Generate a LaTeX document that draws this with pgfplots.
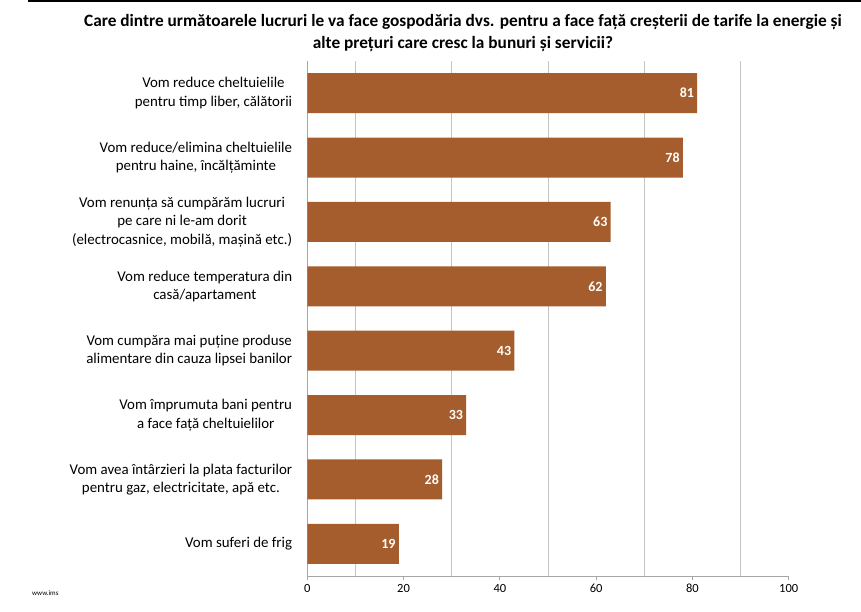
\documentclass[border=0pt]{standalone}
\usepackage{pgfplots}
\pgfplotsset{compat=1.18}
\usepackage{fontspec}
\setmainfont{Carlito}
\definecolor{barc}{HTML}{A55D2D}
\definecolor{gridc}{HTML}{C4C4C4}
\definecolor{axc}{HTML}{A6A6A6}
\begin{document}
\begin{tikzpicture}
\useasboundingbox (0bp,0bp) rectangle (861bp,612bp);
\fill[black] (28bp,610bp) rectangle (861bp,612bp);
\node[align=center,font=\fontsize{17.3bp}{22bp}\selectfont\bfseries] at (463bp,579bp)
  {Care dintre următoarele lucruri le va face gospodăria dvs. pentru a face față creșterii de tarife la energie și\\alte prețuri care cresc la bunuri și servicii?};
\node[anchor=west,font=\fontsize{7bp}{8bp}\selectfont,inner sep=0] at (32bp,19bp) {www.ims};
\begin{axis}[
  at={(307.3bp,36bp)}, anchor=south west,
  scale only axis, width=481.4bp, height=515bp,
  xbar, bar width=40bp,
  xmin=0, xmax=100, ymin=-0.5, ymax=7.5, y dir=reverse,
  axis x line*=bottom, axis y line*=left,
  axis line style={axc, line width=1pt, -},
  xtick={0,20,40,60,80,100},
  x tick style={axc, line width=0.8pt},
  tick align=outside, major tick length=4bp,
  extra x ticks={10,30,50,70,90}, extra x tick labels={},
  extra x tick style={grid=major, major tick length=0pt},
  major grid style={gridc, line width=0.9pt},
  xticklabel style={font=\fontsize{12.5bp}{14bp}\selectfont, inner sep=1bp, yshift=-3bp},
  /pgf/number format/assume math mode=true,
  ytick={0,1,2,3,4,5,6,7},
  y tick style={draw=none},
  yticklabels={{Vom reduce cheltuielile\\pentru timp liber, călătorii},
               {Vom reduce/elimina cheltuielile\\pentru haine, încălțăminte},
               {Vom renunța să cumpărăm lucruri\\pe care ni le-am dorit\\(electrocasnice, mobilă, mașină etc.)},
               {Vom reduce temperatura din\\casă/apartament},
               {Vom cumpăra mai puține produse\\alimentare din cauza lipsei banilor},
               {Vom împrumuta bani pentru\\a face față cheltuielilor},
               {Vom avea întârzieri la plata facturilor\\pentru gaz, electricitate, apă etc.},
               {Vom suferi de frig}},
  yticklabel style={align=center, font=\fontsize{14.9bp}{18.5bp}\selectfont, inner sep=0pt, xshift=-11bp},
  nodes near coords,
  nodes near coords style={anchor=east, font=\fontsize{14bp}{16bp}\selectfont\bfseries, text=white, inner sep=3bp},
  clip=false,
]
\addplot[fill=barc, draw=none] coordinates {
  (81,0) (78,1) (63,2) (62,3) (43,4) (33,5) (28,6) (19,7)
};
\end{axis}
\end{tikzpicture}
\end{document}
